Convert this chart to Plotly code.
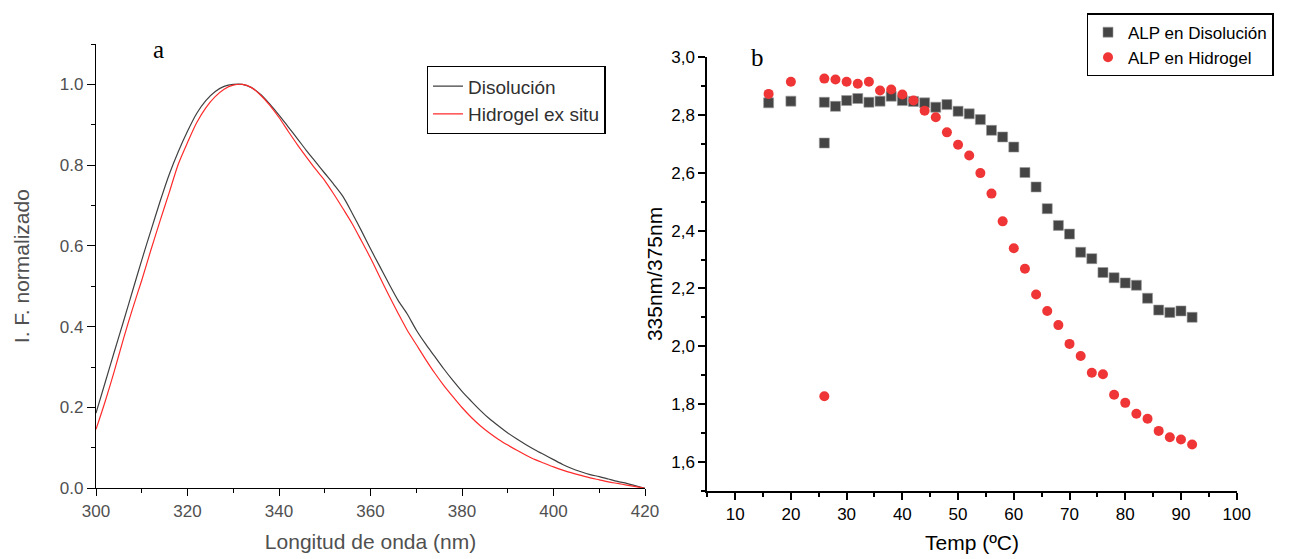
import plotly.graph_objects as go

# ---- Panel a: normalised fluorescence spectra ----
wavelength = [300, 302, 304, 306, 308, 310, 312, 314, 316, 318, 320, 322, 324, 326, 328, 330,
              332, 334, 336, 338, 340, 342, 344, 346, 348, 350, 352, 354, 356, 358, 360, 362,
              364, 366, 368, 370, 372, 374, 376, 378, 380, 382, 384, 386, 388, 390, 392, 394,
              396, 398, 400, 402, 404, 406, 408, 410, 412, 414, 416, 418, 420]
if_dis = [0.186, 0.262, 0.338, 0.413, 0.489, 0.565, 0.638, 0.710, 0.777, 0.834, 0.884, 0.928,
          0.960, 0.982, 0.995, 1.000, 1.000, 0.992, 0.975, 0.951, 0.924, 0.895, 0.866, 0.836,
          0.808, 0.780, 0.752, 0.722, 0.681, 0.638, 0.593, 0.550, 0.507, 0.466, 0.432, 0.392,
          0.358, 0.327, 0.296, 0.267, 0.240, 0.216, 0.193, 0.172, 0.154, 0.137, 0.122, 0.108,
          0.095, 0.083, 0.071, 0.059, 0.049, 0.041, 0.034, 0.029, 0.023, 0.017, 0.012, 0.006,
          0.000]
if_hid = [0.146, 0.215, 0.290, 0.370, 0.445, 0.515, 0.590, 0.662, 0.732, 0.803, 0.856, 0.905,
          0.942, 0.969, 0.988, 0.998, 1.000, 0.992, 0.973, 0.948, 0.918, 0.884, 0.851, 0.820,
          0.790, 0.762, 0.728, 0.692, 0.655, 0.613, 0.570, 0.524, 0.478, 0.434, 0.392, 0.356,
          0.320, 0.286, 0.255, 0.227, 0.200, 0.176, 0.155, 0.137, 0.121, 0.107, 0.094, 0.082,
          0.071, 0.062, 0.053, 0.045, 0.038, 0.032, 0.026, 0.021, 0.016, 0.012, 0.008, 0.004,
          0.000]

# ---- Panel b: ratio 335nm/375nm vs temperature ----
temp = [16, 20, 26, 26, 28, 30, 32, 34, 36, 38, 40, 42, 44, 46, 48, 50, 52, 54, 56, 58, 60,
        62, 64, 66, 68, 70, 72, 74, 76, 78, 80, 82, 84, 86, 88, 90, 92]
ratio_dis = [2.842, 2.848, 2.844, 2.703, 2.830, 2.850, 2.857, 2.844, 2.848, 2.865, 2.850,
             2.847, 2.842, 2.827, 2.836, 2.813, 2.804, 2.784, 2.747, 2.724, 2.689, 2.601,
             2.551, 2.476, 2.418, 2.388, 2.325, 2.303, 2.255, 2.237, 2.219, 2.211, 2.166,
             2.125, 2.117, 2.122, 2.100]
ratio_hid = [2.873, 2.915, 2.926, 1.827, 2.923, 2.915, 2.908, 2.915, 2.885, 2.888, 2.871,
             2.850, 2.815, 2.792, 2.740, 2.697, 2.660, 2.599, 2.528, 2.432, 2.339, 2.268,
             2.179, 2.122, 2.073, 2.008, 1.966, 1.908, 1.903, 1.832, 1.804, 1.766, 1.749,
             1.707, 1.685, 1.677, 1.660]

yb_tickvals = [1.6, 1.8, 2.0, 2.2, 2.4, 2.6, 2.8, 3.0]
yb_ticktext = ["1,6", "1,8", "2,0", "2,2", "2,4", "2,6", "2,8", "3,0"]

# page geometry: the HTML body has an 8px margin, so the figure starts at (8, 8)
W, H, OFF = 1306, 559, 8
FW, FH = W - OFF, H - OFF


def xp(px):
    return (px - OFF) / FW


def yp(py):
    return 1 - (py - OFF) / FH


FONT = "Liberation Sans, Arial, sans-serif"
GRAY = "#505050"

fig = go.Figure()

fig.add_trace(go.Scatter(x=wavelength, y=if_dis, mode="lines", name="Disolución",
                         line=dict(color="#404040", width=1.2, shape="spline", smoothing=0.8),
                         xaxis="x", yaxis="y", legend="legend"))
fig.add_trace(go.Scatter(x=wavelength, y=if_hid, mode="lines", name="Hidrogel ex situ",
                         line=dict(color="#ff2a2a", width=1.2, shape="spline", smoothing=0.8),
                         xaxis="x", yaxis="y", legend="legend"))

fig.add_trace(go.Scatter(x=temp, y=ratio_dis, mode="markers", name="ALP en Disolución",
                         marker=dict(symbol="square", size=10, color="#454545",
                                     line=dict(width=0.6, color="#9a9a9a")),
                         xaxis="x2", yaxis="y2", legend="legend2"))
fig.add_trace(go.Scatter(x=temp, y=ratio_hid, mode="markers", name="ALP en Hidrogel",
                         marker=dict(symbol="circle", size=10, color="#ef3535"),
                         xaxis="x2", yaxis="y2", legend="legend2"))

axis_common = dict(showgrid=False, zeroline=False, showline=True, linecolor="black",
                   ticks="outside", tickcolor="black", automargin=False)

fig.update_layout(
    width=FW, height=FH, autosize=False,
    margin=dict(l=0, r=0, t=0, b=0),
    paper_bgcolor="white", plot_bgcolor="white",
    font=dict(family=FONT),
    xaxis=dict(**axis_common, domain=[xp(96), xp(645)], range=[300, 420], dtick=20,
               tick0=300, ticklen=7, linewidth=1.3, tickwidth=1.3,
               minor=dict(ticks="outside", dtick=10, ticklen=4, tickcolor="black"),
               tickfont=dict(size=17, color=GRAY),
               title=dict(text="Longitud de onda (nm)", font=dict(size=21, color=GRAY), standoff=14),
               anchor="y"),
    yaxis=dict(**axis_common, domain=[yp(488.3), yp(44)], range=[0, 1.1], dtick=0.2,
               tick0=0, tickformat=".1f", ticklen=8, linewidth=1.3, tickwidth=1.3,
               minor=dict(ticks="outside", dtick=0.1, ticklen=4, tickcolor="black"),
               tickfont=dict(size=17, color=GRAY),
               title=dict(text="I. F. normalizado", font=dict(size=21, color=GRAY), standoff=24),
               anchor="x"),
    xaxis2=dict(**axis_common, domain=[xp(707.3), xp(1236.7)], range=[5, 100], dtick=10,
                tick0=0, ticklen=7, linewidth=2, tickwidth=2,
                minor=dict(ticks="outside", dtick=5, ticklen=4, tickcolor="black"),
                tickfont=dict(size=17, color="black"),
                title=dict(text="Temp (ºC)", font=dict(size=21, color="black"), standoff=12),
                anchor="y2"),
    yaxis2=dict(**axis_common, domain=[yp(490.7), yp(57.2)], range=[1.5, 3.0],
                tickvals=yb_tickvals, ticktext=yb_ticktext, ticklen=7, linewidth=2, tickwidth=2,
                minor=dict(ticks="outside", dtick=0.1, tick0=1.5, ticklen=4, tickcolor="black"),
                tickfont=dict(size=17, color="black"),
                title=dict(text="335nm/375nm", font=dict(size=21, color="black"), standoff=3),
                anchor="x2"),
    legend=dict(x=xp(426.7), y=yp(66), xanchor="left", yanchor="top",
                bordercolor="black", borderwidth=1.3, bgcolor="white",
                font=dict(size=19, color="#303030", family=FONT), tracegroupgap=0),
    legend2=dict(x=xp(1086.7), y=yp(13.3), xanchor="left", yanchor="top",
                 bordercolor="black", borderwidth=1.3, bgcolor="white",
                 font=dict(size=17, color="black", family=FONT), tracegroupgap=0),
    annotations=[
        dict(text="a", x=xp(158), y=yp(50), xref="paper", yref="paper", showarrow=False,
             xanchor="center", yanchor="middle",
             font=dict(family="Liberation Serif, Times New Roman, serif", size=25, color="black")),
        dict(text="b", x=xp(757), y=yp(57), xref="paper", yref="paper", showarrow=False,
             xanchor="center", yanchor="middle",
             font=dict(family="Liberation Serif, Times New Roman, serif", size=25, color="black")),
    ],
)

fig.write_html("out.html")
